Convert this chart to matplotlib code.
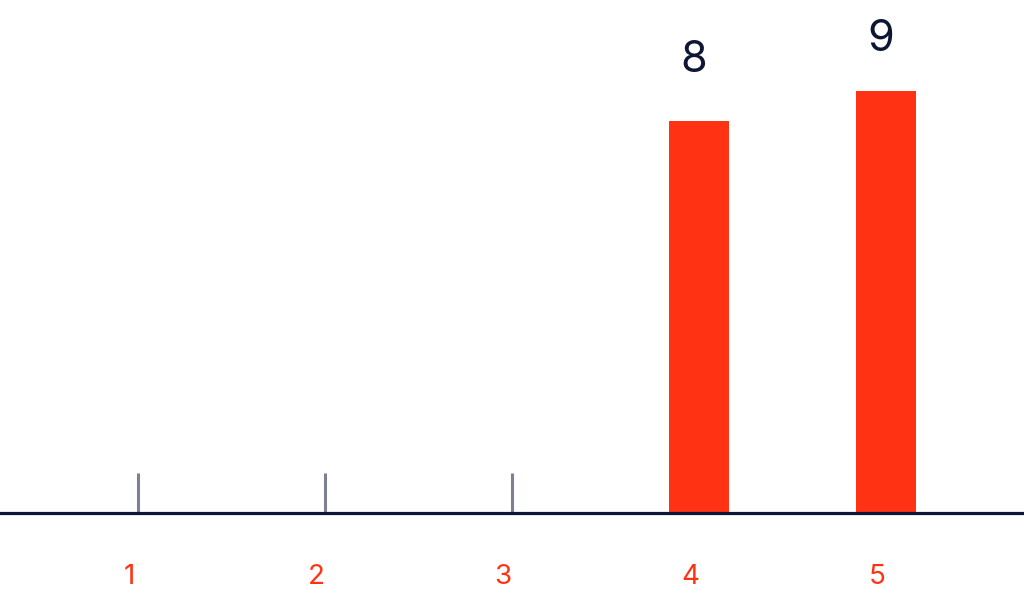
import matplotlib.pyplot as plt
import numpy as np

# chart data
categories = ['1', '2', '3', '4', '5']
values = [0, 0, 0, 8, 9]
baseline = -5  # bars start below zero in the original

bar_color = '#ff3314'
text_dark = '#0d1633'
tick_gray = '#7b8094'
fonts = ['Inter', 'DejaVu Sans']

fig = plt.figure(figsize=(10.24, 6.05), dpi=100)
ax = fig.add_axes([0, 0.152, 1, 0.848])

x = np.arange(1, len(categories) + 1)
heights = [v - baseline if v > 0 else 0 for v in values]
ax.bar(x, heights, bottom=baseline, width=0.316, color=bar_color, zorder=2)

# small gray markers for empty categories
for xi, v in zip(x, values):
    if v == 0:
        ax.vlines(xi, baseline, baseline + 1.33, color=tick_gray, lw=2.2, zorder=2)

# value labels
label_offsets = [0, 0, 0, 44, 37]  # points above bar top
for xi, v, off in zip(x, values, label_offsets):
    if v > 0:
        ax.annotate(str(v), (xi, v), xytext=(-4, off), textcoords='offset points',
                    ha='center', va='center', fontsize=31, color=text_dark,
                    family=fonts)

# category labels
for xi, c in zip(x, categories):
    ax.annotate(c, (xi, baseline), xytext=(-6.5, -46), textcoords='offset points',
                ha='center', va='center', fontsize=20, color=bar_color,
                family=fonts, annotation_clip=False)

ax.axhline(baseline, color=text_dark, lw=2.3, zorder=3, clip_on=False)

ax.set_xlim(1 - 138 / 187, 1 + (1024 - 138) / 187)
ax.set_ylim(baseline, baseline + 513 / 30.14)
ax.axis('off')

fig.savefig('out.png', dpi=100)
